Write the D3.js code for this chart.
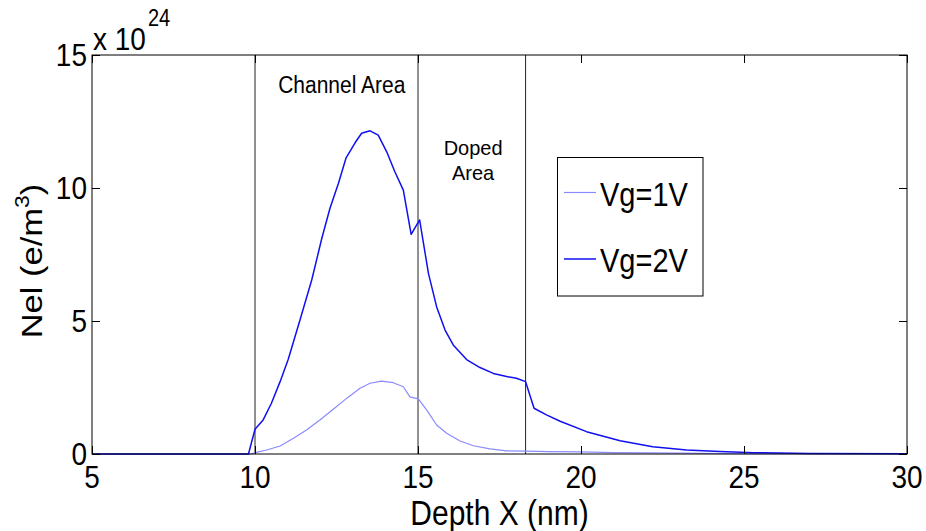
<!DOCTYPE html>
<html>
<head>
<meta charset="utf-8">
<script src="https://cdn.jsdelivr.net/npm/d3@7"></script>
<style>
  html, body { margin: 0; padding: 0; background: #fff; }
  svg { display: block; }
  text { font-family: "Liberation Sans", Arial, Helvetica, sans-serif; fill: #000; }
</style>
</head>
<body>
<svg id="chart" width="926" height="531"></svg>
<script>
// Electron density (units of 1e24 e/m^3) versus depth (nm)
const depthVg1 = [5, 9.9, 10.0, 10.36, 10.77, 11.18, 11.58, 11.99, 12.40, 12.81, 13.22, 13.53, 13.88, 14.24, 14.55, 14.75, 15.01, 15.27, 15.57, 15.88, 16.29, 16.70, 17.21, 17.72, 18.33, 19, 20, 21, 23, 25, 30];
const nelVg1   = [0, 0, 0.05, 0.15, 0.30, 0.59, 0.90, 1.28, 1.68, 2.09, 2.47, 2.66, 2.74, 2.68, 2.53, 2.15, 2.07, 1.65, 1.09, 0.78, 0.49, 0.31, 0.19, 0.12, 0.11, 0.09, 0.08, 0.05, 0.03, 0.01, 0];

const depthVg2 = [5, 9.8, 10.0, 10.25, 10.5, 10.77, 11.02, 11.38, 11.74, 12.05, 12.30, 12.56, 12.79, 13.07, 13.27, 13.53, 13.78, 14.04, 14.29, 14.55, 14.79, 15.05, 15.32, 15.57, 15.83, 16.08, 16.49, 16.9, 17.31, 17.72, 18.02, 18.30, 18.56, 18.94, 19.36, 20.17, 21.2, 22.2, 23.24, 24.26, 25.3, 27, 30];
const nelVg2   = [0, 0, 0.93, 1.28, 1.90, 2.72, 3.56, 5.04, 6.54, 8.11, 9.24, 10.18, 11.12, 11.70, 12.06, 12.15, 11.99, 11.36, 10.61, 9.92, 8.26, 8.80, 6.79, 5.54, 4.66, 4.10, 3.55, 3.25, 3.03, 2.91, 2.85, 2.72, 1.72, 1.47, 1.23, 0.84, 0.50, 0.27, 0.15, 0.09, 0.05, 0.02, 0.01];

const seriesNames = ["Vg=1V", "Vg=2V"];
const seriesColors = ["#8a8aff", "#1010f0"];

const xTicks = [5, 10, 15, 20, 25, 30];
const yTicks = [0, 5, 10, 15];
const regionBounds = [10, 15, 18.3];
const regionLabels = [
  { lines: ["Channel Area"], x: 12.66, y: 13.57 },
  { lines: ["Doped", "Area"], x: 16.69, y: 11.24 }
];

const svg = d3.select("#chart");
const m = { left: 92, top: 55, right: 907, bottom: 454 };
const SY = 1.15; // vertical stretch applied to text glyphs

const x = d3.scaleLinear().domain([5, 30]).range([m.left, m.right]);
const y = d3.scaleLinear().domain([0, 15]).range([m.bottom, m.top]);

// stretched text helper
function label(g, str, px, py, size, anchor, sy) {
  return g.append("text")
    .attr("transform", `translate(${px},${py}) scale(1,${sy || SY})`)
    .attr("font-size", size)
    .attr("text-anchor", anchor || "start")
    .text(str);
}

// region dividers
svg.append("g").selectAll("line").data(regionBounds).join("line")
  .attr("x1", d => x(d)).attr("x2", d => x(d))
  .attr("y1", m.bottom).attr("y2", m.top)
  .attr("stroke", "#222").attr("stroke-width", 1);

// region labels
regionLabels.forEach((r, k) => {
  r.lines.forEach((t, i) => {
    label(svg, t, x(r.x), y(r.y) + i * 25, k === 0 ? 21 : 20, "middle", k === 0 ? 1.15 : 1.02);
  });
});

// curves
const line = d3.line().x(d => x(d[0])).y(d => y(d[1]));
const seriesData = [
  d3.zip(depthVg1, nelVg1),
  d3.zip(depthVg2, nelVg2)
];
svg.append("g").selectAll("path").data(seriesData).join("path")
  .attr("d", line)
  .attr("fill", "none")
  .attr("stroke", (d, i) => seriesColors[i])
  .attr("stroke-width", (d, i) => i === 0 ? 1.2 : 1.5)
  .attr("stroke-linejoin", "round");

// axes box with inward ticks on all four sides
const tickLen = 8;
const axisG = svg.append("g").attr("stroke", "#000").attr("stroke-width", 1).attr("fill", "none");
axisG.append("rect")
  .attr("x", m.left).attr("y", m.top)
  .attr("width", m.right - m.left).attr("height", m.bottom - m.top);

const bottomAxis = d3.axisBottom(x).tickValues(xTicks).tickSize(-tickLen).tickFormat("");
const topAxis = d3.axisTop(x).tickValues(xTicks).tickSize(-tickLen).tickFormat("");
const leftAxis = d3.axisLeft(y).tickValues(yTicks).tickSize(-tickLen).tickFormat("");
const rightAxis = d3.axisRight(y).tickValues(yTicks).tickSize(-tickLen).tickFormat("");
[[bottomAxis, `translate(0,${m.bottom})`], [topAxis, `translate(0,${m.top})`],
 [leftAxis, `translate(${m.left},0)`], [rightAxis, `translate(${m.right},0)`]].forEach(([ax, tr]) => {
  const g = svg.append("g").attr("transform", tr).call(ax);
  g.select(".domain").remove();
  g.selectAll("line").attr("stroke", "#000");
});

// tick labels
const tl = svg.append("g");
xTicks.forEach(v => label(tl, String(v), x(v), m.bottom + 34, 28, "middle"));
yTicks.forEach(v => label(tl, String(v), m.left - 5, y(v) + 11, 28, "end"));

// exponent
label(svg, "x 10", m.left + 1, 50, 28, "start");
label(svg, "24", 148, 26, 20, "start");

// axis titles
label(svg, "Depth X (nm)", (m.left + m.right) / 2, 525, 30, "middle");
const yl = svg.append("text")
  .attr("transform", `translate(42,261) rotate(-90) scale(${SY},1)`)
  .attr("font-size", 30)
  .attr("text-anchor", "middle");
yl.append("tspan").text("Nel (e/m");
yl.append("tspan").attr("font-size", 20).attr("dy", -13).text("3");
yl.append("tspan").attr("dy", 13).text(")");

// legend
const lg = svg.append("g");
lg.append("rect")
  .attr("x", 557.5).attr("y", 157.5).attr("width", 145.5).attr("height", 138.5)
  .attr("fill", "#fff").attr("stroke", "#000").attr("stroke-width", 1);
seriesNames.forEach((name, i) => {
  const cy = 192.5 + i * 66.5;
  lg.append("line")
    .attr("x1", 564).attr("x2", 596)
    .attr("y1", cy).attr("y2", cy)
    .attr("stroke", seriesColors[i]).attr("stroke-width", i === 0 ? 1.2 : 1.5);
  label(lg, name, 600, cy + 13, 29, "start");
});
</script>
</body>
</html>
